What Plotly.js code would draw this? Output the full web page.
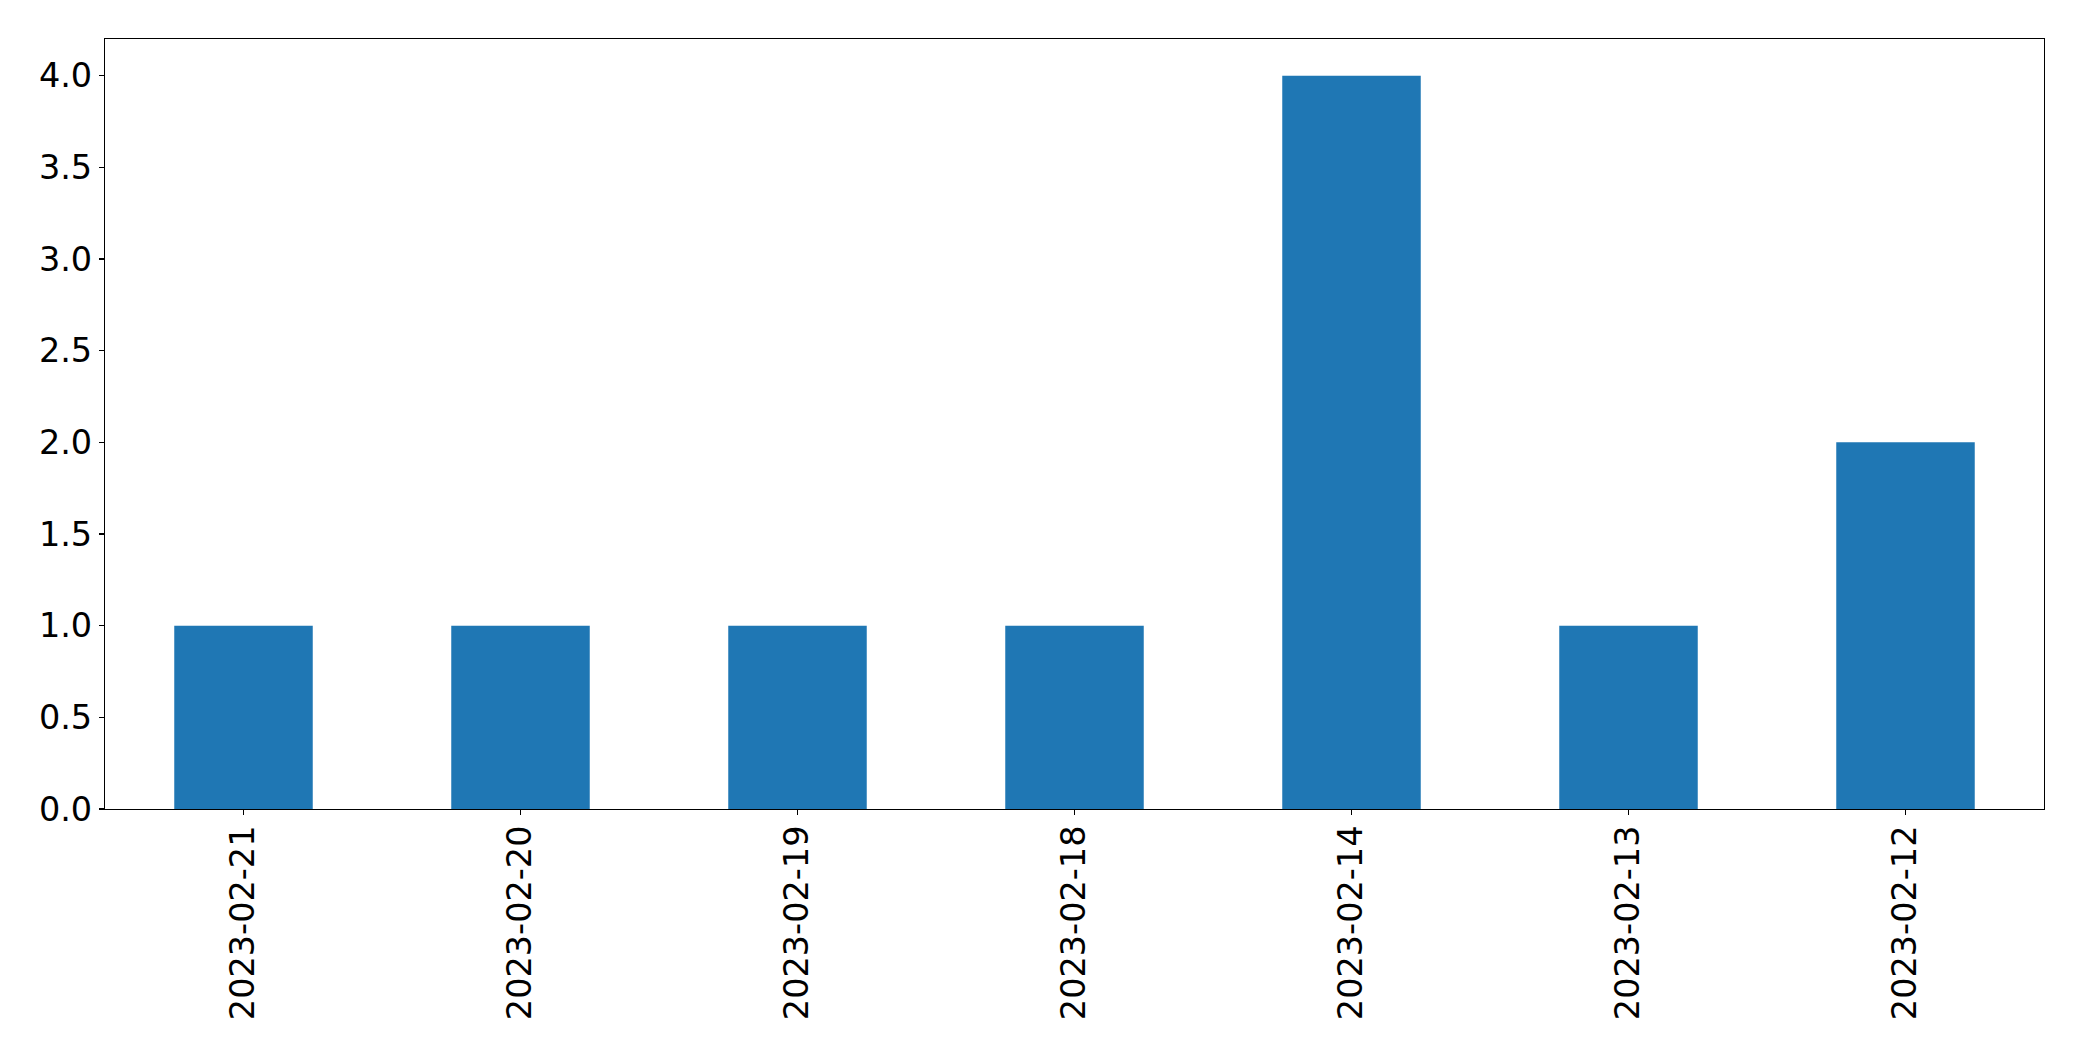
<!DOCTYPE html>
<html>
<head>
<meta charset="utf-8">
<script src="https://cdn.plot.ly/plotly-3.0.1.min.js"></script>
<style>html,body{margin:0;padding:0;background:#fff;}#chart{width:2082px;height:1061px;}</style>
</head>
<body>
<div id="chart"></div>
<script>
const dates = ["2023-02-21","2023-02-20","2023-02-19","2023-02-18","2023-02-14","2023-02-13","2023-02-12"];
const counts = [1, 1, 1, 1, 4, 1, 2];
const yTicks = [0, 0.5, 1, 1.5, 2, 2.5, 3, 3.5, 4];
const yTickText = ["0.0","0.5","1.0","1.5","2.0","2.5","3.0","3.5","4.0"];

const trace = {
  type: "bar",
  x: dates,
  y: counts,
  width: 0.5,
  marker: {color: "#1f77b4", line: {width: 0}},
  hoverinfo: "x+y"
};

const font = {family: "DejaVu Sans, sans-serif", size: 33.5, color: "#000"};

const layout = {
  width: 2082, height: 1061,
  margin: {l: 105, r: 38, t: 39, b: 252, pad: 0},
  paper_bgcolor: "#fff", plot_bgcolor: "#fff",
  showlegend: false,
  bargap: 0.5,
  font: font,
  xaxis: {
    type: "category",
    range: [-0.5, 6.5],
    tickangle: -90,
    ticks: "outside", ticklen: 5, tickwidth: 1.1, tickcolor: "#000",
    ticklabelstandoff: -3,
    showgrid: false, zeroline: false,
    showline: true, linecolor: "#000", linewidth: 1.1, mirror: true,
    tickfont: font
  },
  yaxis: {
    range: [0, 4.2],
    tickmode: "array", tickvals: yTicks, ticktext: yTickText,
    ticks: "outside", ticklen: 5, tickwidth: 1.1, tickcolor: "#000",
    showgrid: false, zeroline: false,
    showline: true, linecolor: "#000", linewidth: 1.1, mirror: true,
    tickfont: font
  }
};

Plotly.newPlot("chart", [trace], layout, {displayModeBar: false, staticPlot: true});
</script>
</body>
</html>
